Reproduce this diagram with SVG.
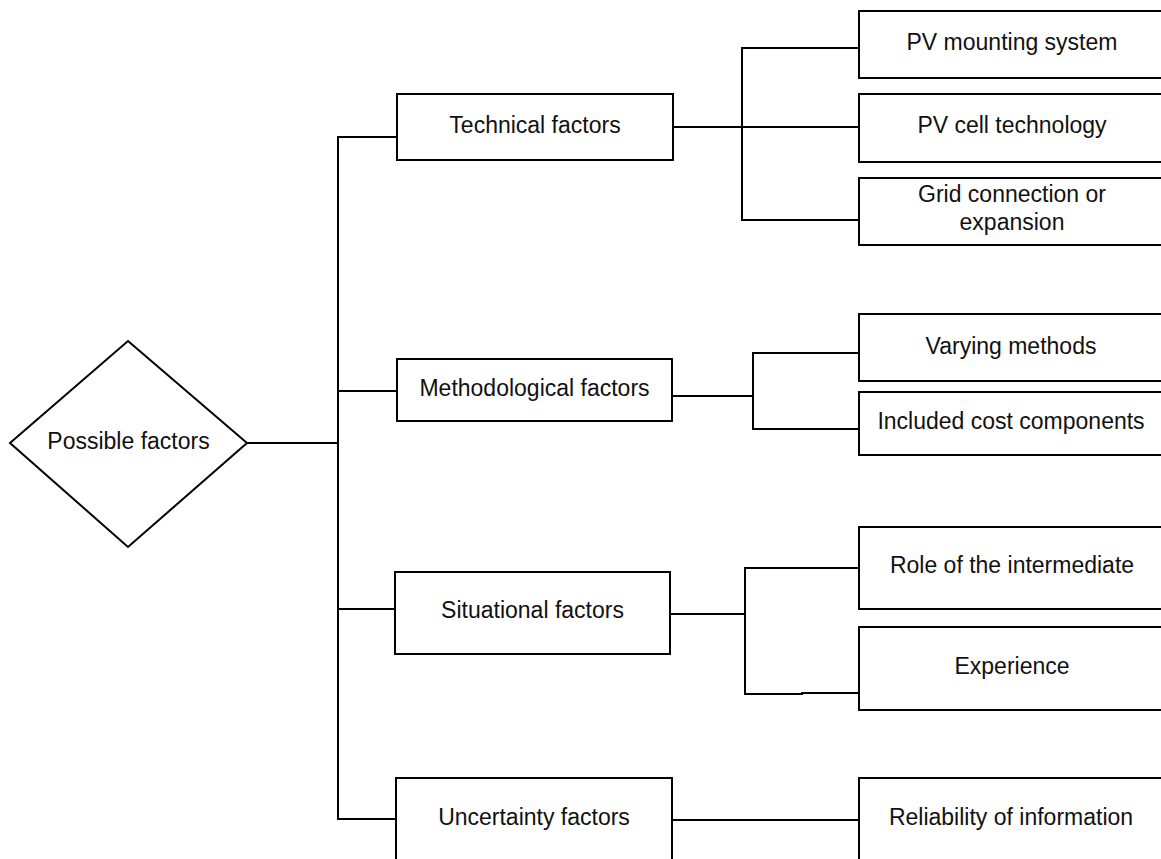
<svg xmlns="http://www.w3.org/2000/svg" width="1161" height="859" viewBox="0 0 1161 859">
<style>
.box{fill:#fff;stroke:#000;stroke-width:2}
.ln{fill:none;stroke:#000;stroke-width:2}
text{font-family:"Liberation Sans",Arial,sans-serif;font-size:23px;fill:#111;text-anchor:middle}
</style>
<rect width="1161" height="859" fill="#fff"/>
<g id="connectors">
<path class="ln" d="M247,443 H338"/>
<path class="ln" d="M397,137 H338 V819 H396"/>
<path class="ln" d="M338,391 H397"/>
<path class="ln" d="M338,609 H395"/>
<path class="ln" d="M673,127 H859"/>
<path class="ln" d="M859,48 H742 V220 H859"/>
<path class="ln" d="M672,396 H753"/>
<path class="ln" d="M859,353 H753 V429 H859"/>
<path class="ln" d="M670,614 H745"/>
<path class="ln" d="M859,568 H745 V694 H802 V693 H859"/>
<path class="ln" d="M672,820 H859"/>
</g>
<g id="possible">
<polygon class="box" points="128,341 247,443 128,547 10,443"/>
<text x="128.5" y="449">Possible factors</text>
</g>
<g id="technical">
<rect class="box" x="397" y="94" width="276" height="66"/>
<text x="535" y="133">Technical factors</text>
</g>
<g id="methodological">
<rect class="box" x="397" y="359" width="275" height="62"/>
<text x="534.5" y="396">Methodological factors</text>
</g>
<g id="situational">
<rect class="box" x="395" y="572" width="275" height="82"/>
<text x="532.5" y="618">Situational factors</text>
</g>
<g id="uncertainty">
<rect class="box" x="396" y="778" width="276" height="82"/>
<text x="534" y="825">Uncertainty factors</text>
</g>
<g id="mounting">
<rect class="box" x="859" y="11" width="306" height="67"/>
<text x="1012" y="50">PV mounting system</text>
</g>
<g id="cell">
<rect class="box" x="859" y="94" width="306" height="68"/>
<text x="1012" y="133">PV cell technology</text>
</g>
<g id="grid">
<rect class="box" x="859" y="178" width="306" height="67"/>
<text x="1012" y="202">Grid connection or</text>
<text x="1012" y="230">expansion</text>
</g>
<g id="varying">
<rect class="box" x="859" y="314" width="306" height="67"/>
<text x="1011" y="354">Varying methods</text>
</g>
<g id="included">
<rect class="box" x="859" y="392" width="306" height="63"/>
<text x="1011" y="429">Included cost components</text>
</g>
<g id="role">
<rect class="box" x="859" y="527" width="306" height="82"/>
<text x="1012" y="573">Role of the intermediate</text>
</g>
<g id="experience">
<rect class="box" x="859" y="627" width="306" height="83"/>
<text x="1012" y="674">Experience</text>
</g>
<g id="reliability">
<rect class="box" x="859" y="778" width="306" height="82"/>
<text x="1011" y="825">Reliability of information</text>
</g>
</svg>
